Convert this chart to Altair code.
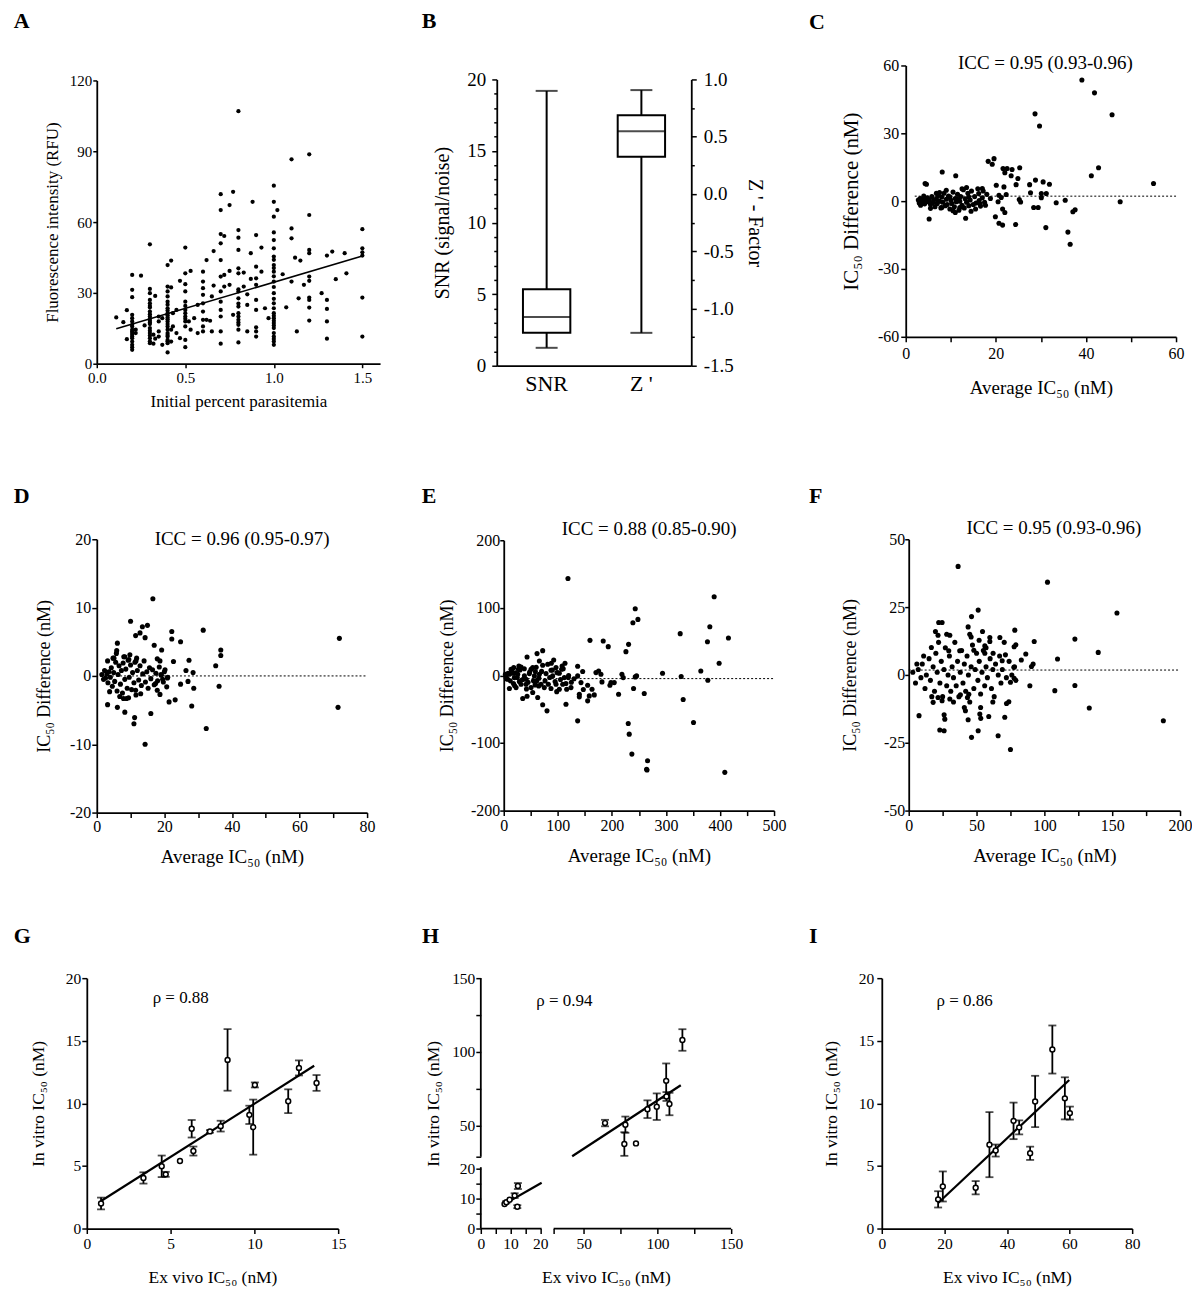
import altair as alt
import pandas as pd

FONT = "Liberation Serif"
BLACK = "#000000"

# ---------------- Panel A : fluorescence vs parasitemia ----------------
A_col_x = [0.11, 0.15, 0.17, 0.20, 0.22, 0.25, 0.27, 0.30, 0.32, 0.33, 0.35, 0.37, 0.40, 0.42, 0.43,
           0.45, 0.47, 0.50, 0.52, 0.53, 0.55, 0.57, 0.60, 0.62, 0.64, 0.65, 0.66, 0.70, 0.72, 0.75,
           0.77, 0.80, 0.83, 0.85, 0.87, 0.88, 0.90, 0.93, 0.95, 0.97, 1.00, 1.02, 1.05, 1.07, 1.10,
           1.12, 1.13, 1.14, 1.15, 1.17, 1.20, 1.27, 1.30, 1.33, 1.35, 1.40, 1.41, 1.50]
A_col_y = [
    [19.6], [17.6], [22.7, 10.4],
    [37.6, 31.3, 28.2, 20.7, 19.3, 17.9, 16.5, 15.8, 14.4, 13.7, 13.0, 12.3, 11.5, 10.8, 9.4, 8.0, 7.0, 5.9],
    [14.4, 13.0], [37.3], [16.2],
    [50.6, 31.7, 29.9, 27.0, 25.6, 24.5, 23.8, 22.1, 21.0, 20.0, 19.0, 18.2, 17.5, 16.8, 15.1, 14.0, 13.0, 12.0, 10.8, 9.5, 8.7],
    [12.3, 8.5], [28.7, 10.6], [20.0, 17.9, 13.7, 11.5], [19.3, 8.0],
    [41.8, 32.7, 30.6, 28.5, 26.3, 25.0, 23.5, 22.5, 21.4, 20.5, 19.6, 18.8, 17.9, 16.8, 15.8, 14.4, 13.0, 12.2, 11.5, 10.1, 9.5, 8.7, 4.8],
    [43.7, 32.3, 14.4, 9.4], [21.4, 15.8], [22.8, 13.0], [35.1, 10.8],
    [49.2, 38.3, 33.7, 30.6, 26.3, 24.5, 22.8, 21.4, 20.0, 19.0, 17.9, 15.8, 10.1, 7.0],
    [17.9], [39.3, 14.4], [19.3], [24.9, 13.0],
    [39.0, 34.8, 32.0, 29.2, 25.6, 22.1, 18.6, 15.8, 13.7],
    [43.9, 18.6], [18.2], [28.5, 13.7], [47.7, 33.1],
    [71.8, 65.1, 54.9, 51.0, 43.9, 36.9, 30.6, 26.3, 22.8, 20.0, 13.7, 8.5],
    [54.1, 37.6, 32.7], [67.2, 39.3, 33.4], [72.8, 20.7],
    [107.0, 56.6, 53.4, 48.2, 40.4, 38.3, 31.5, 30.6, 27.7, 25.5, 24.2, 21.4, 20.0, 18.6, 17.5, 16.5, 14.4, 9.0],
    [38.6, 32.7], [29.4, 24.9, 13.7], [46.8, 35.9], [68.6],
    [54.5, 41.1, 36.2, 33.4, 27.0, 22.8, 15.4, 13.7, 11.5],
    [49.2, 39.0], [23.5], [19.3],
    [75.4, 68.6, 62.3, 55.6, 52.4, 48.9, 45.4, 44.0, 41.8, 40.5, 39.0, 37.0, 34.8, 32.5, 29.9, 27.5, 25.6,
     23.5, 21.4, 20.3, 19.3, 18.2, 17.2, 16.2, 15.1, 13.0, 11.5, 10.5, 9.4, 8.0],
    [65.1], [37.9], [23.9], [86.6, 57.3, 53.1, 34.8], [44.9], [13.7], [27.7], [43.7], [33.4],
    [88.7, 63.0, 48.2, 46.8, 36.9, 35.1, 28.0, 27.0, 23.8, 18.3],
    [29.9], [45.8, 27.0, 23.2, 17.9, 10.6], [47.5], [35.8], [46.8], [38.3],
    [57.0, 48.9, 47.2, 45.8, 28.0, 11.5],
]
A_fit_x = [0.11, 1.50]
A_fit_y = [14.8, 45.6]

# ---------------- Panel B : box plots ----------------
B_cats = ["SNR", "Z '"]
B_stats = ["lo", "q1", "med", "q3", "hi"]
B_snr = [1.25, 2.30, 3.40, 5.35, 19.2]
B_z = [-1.213, 0.324, 0.548, 0.687, 0.907]

# ---------------- Panel C ----------------
C_pts = [
    (39.1, 53.6), (41.9, 47.9), (45.8, 38.2), (28.7, 38.6), (29.7, 33.2), (42.8, 14.8), (41.2, 11.2),
    (55.0, 7.8), (47.6, -0.3), (35.4, 0.4), (33.4, -0.7), (36.0, -13.7), (36.5, -19.1), (37.1, -4.7),
    (37.6, -3.8), (31.1, -11.7), (31.9, 7.5), (30.5, 8.5), (30.1, 3.4), (31.2, 3.4), (28.8, 9.3),
    (27.5, 7.3), (27.7, 3.7), (28.4, -2.8), (29.4, -2.8), (30.1, 1.5), (25.3, 14.8), (24.9, 10.0),
    (25.2, 0.7), (25.5, -0.4), (24.4, -10.3), (24.5, 7.3), (23.6, 14.0), (22.5, 14.4), (21.6, 14.4),
    (22.0, 12.6), (23.4, 11.2), (20.7, -9.8), (21.5, -10.6), (19.9, -6.9), (18.3, 17.6), (19.6, 18.8),
    (19.2, 16.3), (20.1, 7.0), (20.7, 2.6), (21.2, 1.6), (21.8, 6.3), (21.5, -3.5), (22.0, -5.0),
    (22.3, 2.9), (20.5, -0.3), (18.8, 1.2), (17.7, -1.8), (17.0, 5.6), (16.2, 3.4), (8.1, 12.9),
    (11.1, 11.2), (4.3, 7.8), (5.2, -7.9), (13.3, -7.6), (4.6, 7.5),
    (2.8, 0.5), (3.0, -0.8), (3.2, 1.2), (3.5, 0.0), (3.8, -0.5), (4.0, 0.8), (4.2, -1.2), (4.5, 0.3),
    (4.8, 1.5), (5.0, -0.3), (5.2, 0.6), (5.5, -1.5), (5.8, 2.0), (6.0, -0.8), (6.2, 0.4), (6.5, -2.5),
    (6.8, 1.0), (7.0, -1.0), (7.2, 2.5), (7.5, 0.0), (7.8, -3.0), (8.0, 1.8), (8.2, -0.5), (8.5, 3.5),
    (8.8, -2.0), (9.0, 0.8), (9.2, -1.5), (9.5, 2.2), (9.8, -3.5), (10.0, 0.5), (10.2, -1.0), (10.5, 4.0),
    (10.8, -2.5), (11.0, 1.2), (11.2, -0.3), (11.5, 3.0), (11.8, -4.0), (12.0, 0.0), (12.2, 2.0),
    (12.5, -1.8), (12.8, 5.0), (13.0, -3.0), (13.2, 1.0), (13.5, -0.5), (13.8, 3.5), (14.0, -2.0),
    (14.3, 0.5), (14.6, 4.5), (15.0, -1.5), (15.3, 2.0), (15.6, -0.8), (16.0, 5.5), (16.3, 0.3),
    (16.6, -2.2), (17.0, 1.5), (17.5, -0.5), (18.0, 3.0), (5.5, -3.2), (9.0, 4.8), (10.5, -4.2),
    (12.5, 5.5), (14.5, -4.5), (8.0, -2.8), (6.8, 3.5), (11.0, -5.0), (13.5, 6.0), (7.5, 3.8),
    (4.0, 2.2), (3.3, -1.8), (15.5, -3.5), (17.2, 4.5), (16.5, -1.2), (12.0, -2.8), (9.8, 1.8),
    (11.5, 0.8), (14.0, 1.8),
]
C_mean = 2.2

# ---------------- Panel D ----------------
D_pts = [
    (16.6, 11.3), (10.0, 8.0), (13.5, 7.2), (15.0, 7.4), (12.8, 6.3), (11.5, 5.9), (14.3, 5.6),
    (22.2, 6.5), (24.8, 5.0), (22.2, 5.4), (31.5, 6.7), (71.8, 5.5), (71.4, -4.6), (36.7, 3.8),
    (36.7, 3.0), (35.2, 1.5), (36.2, -1.5), (32.4, -7.7), (28.1, -4.4), (28.7, -1.8), (28.5, 0.5),
    (26.4, 0.8), (27.3, 2.3), (27.0, -0.8), (24.8, -1.2), (22.7, 2.1), (23.2, -3.5), (21.4, -3.8),
    (19.2, 3.8), (17.0, 4.5), (14.3, -10.0), (16.0, -5.5), (11.0, -7.0), (11.2, -6.1), (8.3, -5.3),
    (7.9, -3.3), (6.1, -4.6), (3.2, -4.2), (3.2, 2.2), (6.1, 4.8), (5.9, 3.7), (5.1, 2.6), (8.3, 2.8),
    (9.5, 2.4), (11.6, 2.2), (17.9, 2.5), (18.7, 2.2), (17.4, -1.1), (17.9, -2.1), (18.7, -2.7),
    (11.5, -2.1), (9.4, -3.2), (20.2, 0.9), (20.9, -0.3), (19.7, -0.9), (19.1, 0.1), (20.7, -1.6),
    (1.5, 0.2), (2.0, -0.5), (2.3, 0.8), (2.6, -0.3), (3.0, 0.3), (3.3, -1.0), (3.6, 0.6), (4.0, -0.2),
    (4.3, 1.2), (4.6, -1.5), (5.0, 0.5), (5.3, -0.8), (5.6, 2.0), (6.0, -2.2), (6.3, 0.2), (6.6, 1.5),
    (7.0, -1.2), (7.3, 0.8), (7.6, -2.5), (8.0, 2.8), (8.3, -0.5), (8.6, 1.0), (9.0, -1.8), (9.3, 2.3),
    (9.6, -0.2), (10.0, 1.6), (10.3, -2.0), (10.6, 0.5), (11.0, -1.0), (11.3, 2.0), (11.6, -2.8),
    (12.0, 0.8), (12.4, -0.6), (12.8, 1.5), (13.2, -1.4), (13.6, 0.3), (14.0, 2.2), (14.4, -0.9),
    (14.8, 0.6), (15.2, -1.8), (15.6, 1.2), (16.0, -0.4), (16.5, 0.9), (17.0, -1.3), (17.5, 0.4),
    (18.0, -0.7), (18.5, 1.3), (19.0, 0.2), (19.5, -0.5), (20.0, 0.6), (21.0, -0.2), (4.8, 2.6),
    (6.8, -3.0), (9.8, 3.1), (11.8, 2.6), (8.8, -3.3), (13.0, -2.6), (5.8, 3.3), (7.8, 1.9), (3.8, -2.3),
]
D_mean = 0.0

# ---------------- Panel E ----------------
E_pts = [
    (118.8, 143.4), (243.2, 98.6), (248.2, 82.9), (238.9, 78.0), (230.9, 46.0), (226.0, 35.2),
    (218.6, 1.7), (221.0, -3.2), (245.7, -0.7), (243.2, -2.2), (240.1, -19.4), (259.9, -26.8),
    (230.3, -71.1), (232.1, -86.9), (237.0, -116.4), (266.0, -126.2), (264.2, -139.0), (265.0, -140.0),
    (159.5, 51.9), (184.0, 51.0), (193.3, 42.6), (175.5, 6.6), (170.6, 4.2), (179.8, 1.7), (181.7, -9.6),
    (198.3, -10.6), (204.4, -10.6), (196.4, -14.5), (212.4, -27.8), (293.7, 3.2), (326.4, 61.8),
    (328.2, -1.7), (331.9, -35.7), (351.0, -69.7), (364.5, 6.6), (376.8, 49.8), (377.5, -7.1),
    (381.2, 72.1), (389.2, 116.4), (398.4, 18.0), (415.6, 55.4), (408.9, -143.4),
    (136.7, 13.5), (146.0, 5.7), (136.7, -0.7), (142.9, -10.6), (139.8, -27.8), (136.7, -67.2),
    (139.8, -31.7), (155.2, -14.5), (155.2, -37.6), (163.3, -20.4), (158.2, -30.3), (167.5, -28.8),
    (147.2, -20.9), (115.1, -42.6), (119.5, -3.2), (124.4, -18.0), (116.4, -20.4), (113.3, 18.0),
    (107.1, 9.1), (98.5, 4.2), (92.4, 22.9), (81.3, 16.5), (72.0, 36.7), (61.6, 32.3), (43.1, 27.3),
    (65.9, 21.4), (72.0, -43.5), (80.0, -52.4), (62.8, -32.7), (35.1, -34.2), (43.1, -30.8),
    (53.6, -25.3), (61.0, -8.1), (10.5, -19.4), (18.5, 11.6), (32.0, 12.5), (50.5, 9.1), (82.5, -13.0),
    (90.5, -0.7), (96.7, -13.0), (102.8, -20.4), (87.4, -19.4), (69.0, -13.0), (50.5, -18.0),
    (41.3, -13.0), (28.9, -9.1), (19.7, -3.2), (10.5, 1.7), (4.3, -2.2), (16.6, 3.2), (25.9, 1.7),
    (38.2, -0.7), (47.4, 2.7), (56.7, -0.7), (65.9, 1.7), (78.2, 2.7), (87.4, 7.6), (102.8, 3.2),
    (112.1, -3.2), (64.7, -15.5), (76.4, -8.1), (109.0, -13.0), (96.7, 11.6), (27.1, 9.1), (13.5, 9.1),
    (7.4, -5.6), (3.1, 1.7), (22.8, -18.0), (53.6, 11.6), (58.5, 5.7), (41.3, -5.6), (32.0, -13.0),
    (5, -5), (8, 3), (12, -8), (15, 6), (18, -12), (22, 4), (25, -3), (30, 8), (35, -6), (38, 10),
    (45, -10), (48, 5), (55, -8), (60, 12), (65, -4), (70, 6), (75, -18), (85, -3), (90, 8), (95, -9),
    (100, 4), (105, -6), (110, 10), (115, -12), (120, 0), (125, -10), (130, -5), (20, -15), (28, 14),
    (42, -20), (58, -14), (72, 15), (88, 18), (98, -24), (108, 14),
]
E_mean = -4.7

# ---------------- Panel F ----------------
F_pts = [
    (36.4, 40.0), (102.3, 34.2), (153.5, 22.8), (139.7, 8.3), (122.5, 13.2), (109.7, 5.9), (122.5, -3.9),
    (107.7, -5.8), (133.1, -12.2), (187.7, -16.9), (92.5, 12.3), (91.7, 4.0), (90.5, 3.1), (89.3, -4.0),
    (86.3, 7.7), (83.0, 5.5), (78.2, 16.5), (79.0, 11.1), (77.7, 10.4), (77.5, 2.8), (77.7, -1.2),
    (75.0, -2.7), (73.8, -9.9), (72.1, -10.5), (70.8, -15.6), (75.0, -27.5), (65.9, -22.4), (70.4, 12.0),
    (67.2, 13.8), (71.3, 7.4), (68.9, 5.2), (51.2, 23.9), (46.3, 21.5), (43.8, 17.7), (45.0, 15.0),
    (54.4, 16.0), (51.9, 12.8), (59.8, 13.8), (59.8, 12.3), (56.1, 10.7), (51.2, -20.6), (52.4, -14.4),
    (53.1, -16.0), (46.3, -23.0), (43.8, -16.5), (41.8, -13.2), (59.0, -15.3), (43.3, -8.3), (44.3, -7.1),
    (38.1, -7.3), (30.3, -8.9), (26.1, -20.6), (22.9, -20.3), (26.6, -16.3), (26.1, -14.7), (18.0, -10.1),
    (7.6, -15.0), (24.6, -9.5), (21.6, -8.3), (24.6, 19.3), (22.1, 19.3), (19.7, 16.0), (30.3, 14.6),
    (16.7, 10.1), (21.6, 14.6), (29.5, 8.9), (37.6, 8.9), (48.0, 9.1), (56.1, 8.0), (62.2, 8.0),
    (3, 1), (5, -3), (7, 2), (9, -1), (10, 4), (12, -5), (13, 0), (15, 6), (16, -2), (18, 3), (19, -6),
    (20, 8), (21, 1), (23, -3), (24, 5), (25, -8), (26, 2), (27, 10), (28, -4), (29, 0), (30, 7), (31, -6),
    (32, 3), (33, -1), (34, 12), (35, -4), (36, 5), (37, -8), (38, 1), (39, 9), (40, -3), (41, 4),
    (42, -6), (43, 7), (44, 0), (45, -10), (46, 3), (47, 11), (48, -5), (49, 2), (50, 8), (51, -2),
    (52, 5), (53, -7), (54, 1), (55, 9), (56, -4), (57, 3), (58, -1), (60, 6), (61, -5), (62, 2),
    (63, -8), (64, 4), (66, 0), (67, 7), (68, -3), (69, 2), (72, -1), (74, 5), (76, 0), (78, 3), (79, -2),
    (22, 12), (28, 15), (33, -10), (41, -12), (46, 14), (53, -12), (57, 10), (62, -10), (17, -8), (11, 7), (6, 4),
]
F_mean = 1.8

# ---------------- Panels G, H, I : in vitro vs ex vivo ----------------
G_x = [0.85, 3.38, 4.47, 4.71, 5.56, 6.26, 6.36, 7.35, 7.99, 8.40, 9.70, 9.93, 10.03, 12.02, 12.66, 13.71]
G_y = [2.00, 4.04, 4.97, 4.33, 5.39, 7.97, 6.19, 7.76, 8.18, 13.47, 9.08, 8.10, 11.47, 10.17, 12.83, 11.63]
G_err = [0.47, 0.45, 0.86, 0.20, 0.0, 0.70, 0.36, 0.10, 0.43, 2.46, 0.73, 2.20, 0.20, 0.95, 0.60, 0.63]
G_fit_x = [0.85, 13.57]
G_fit_y = [2.2, 13.0]

H_x = [8.0, 8.6, 9.7, 11.4, 12.5, 12.3, 64.4, 78.2, 77.5, 85.4, 93.2, 99.5, 105.9, 106.1, 108.1, 116.9]
H_y = [8.2, 8.8, 9.6, 11.0, 14.2, 7.3, 51.8, 50.7, 37.6, 38.0, 61.2, 62.9, 80.4, 69.8, 64.7, 108.1]
H_err = [0.0, 0.4, 0.0, 0.8, 1.0, 0.5, 2.2, 5.5, 8.0, 0.0, 6.0, 9.0, 11.8, 3.0, 7.6, 7.3]
H_fit_seg = ["low", "low", "high", "high"]
H_fit_x = [7.5, 20.5, 42.1, 115.8]
H_fit_y = [7.9, 15.3, 29.3, 77.4]

I_x = [18.0, 19.5, 30.0, 34.4, 36.4, 42.1, 43.9, 47.4, 49.0, 54.5, 58.5, 60.1]
I_y = [2.33, 3.36, 3.26, 6.70, 6.23, 8.60, 8.08, 6.01, 10.15, 14.30, 10.40, 9.22]
I_err = [0.65, 1.20, 0.53, 2.60, 0.48, 1.46, 0.56, 0.53, 2.05, 1.92, 1.68, 0.52]
I_fit_x = [18.0, 59.9]
I_fit_y = [2.04, 11.87]


# ======================= helpers =======================
def lab_expr(major):
    arr = "[" + ",".join(repr(float(v)) for v in major) + "]"
    return f"indexof({arr}, datum.value) >= 0 ? replace(datum.label, '\u2212', '-') : ''"


def axis(title, values, major=None, lfs=15, tfs=17, tick=5, lpad=2, tpad=8, fmt=None,
         orient=None, minor=None, domain=True):
    if major is None:
        major = values
    kw = dict(title=title, values=values, labelExpr=lab_expr(major), labelFontSize=lfs,
              titleFontSize=tfs, tickSize=tick, labelPadding=lpad, titlePadding=tpad, grid=False,
              labelFont=FONT, titleFont=FONT, labelColor=BLACK, titleColor=BLACK,
              titleFontWeight="normal", domainColor=BLACK, tickColor=BLACK, domainWidth=1.8,
              tickWidth=1.5, labelOverlap=False, labelFlush=False, domain=domain)
    if fmt:
        kw["format"] = fmt
    if orient:
        kw["orient"] = orient
    if minor is not None:
        arr = "[" + ",".join(repr(float(v)) for v in major) + "]"
        kw["tickSize"] = {"condition": {"test": f"indexof({arr}, datum.value) >= 0", "value": tick},
                          "value": minor}
    return alt.Axis(**kw)


def letter(t, dx, off):
    return alt.TitleParams(text=t, anchor="start", frame="group", align="left", baseline="alphabetic",
                           orient="top", dx=dx, offset=off, font=FONT, fontSize=22,
                           fontWeight="bold", color=BLACK)


def spacer(w, h):
    return alt.Chart(pd.DataFrame({"s": [0]})).mark_point(opacity=0).properties(width=w, height=h)


# ======================= Panel A =======================
dfA = pd.DataFrame([(x, y) for x, ys in zip(A_col_x, A_col_y) for y in ys], columns=["x", "y"])
dfAfit = pd.DataFrame({"x": A_fit_x, "y": A_fit_y})
xA = alt.X("x:Q", scale=alt.Scale(domain=[0, 1.6], nice=False, zero=False),
           axis=axis("Initial percent parasitemia", [0, 0.5, 1.0, 1.5], lfs=15, tfs=17, tick=4,
                     lpad=3, tpad=8, fmt=".1f"))
yA = alt.Y("y:Q", scale=alt.Scale(domain=[0, 120], range=[299, 15], nice=False, zero=False),
           axis=axis("Fluorescence intensity (RFU)", [0, 30, 60, 90, 120], lfs=15, tfs=17, tick=4,
                     lpad=1, tpad=8))
A = alt.layer(
    alt.Chart(dfA).mark_circle(size=18, color=BLACK, opacity=1).encode(x=xA, y=yA),
    alt.Chart(dfAfit).mark_line(color=BLACK, strokeWidth=1.6).encode(x=xA, y=yA),
).properties(width=284, height=299, title=letter("A", -83.3, 15.5))

# ======================= Panel B =======================
dfBs = pd.DataFrame([dict(cat=B_cats[0], **dict(zip(B_stats, B_snr)))])
dfBz = pd.DataFrame([dict(cat=B_cats[1], **dict(zip(B_stats, B_z)))])
xB = alt.X("cat:N", scale=alt.Scale(type="band", domain=B_cats, paddingInner=0.5, paddingOuter=0.2765),
           axis=alt.Axis(title=None, labelAngle=0, labelFontSize=22, labelFont=FONT, labelColor=BLACK,
                         ticks=False, labelPadding=8, domainColor=BLACK, domainWidth=1.8, grid=False))
scL = alt.Scale(domain=[0, 20], range=[301, 14], nice=False, zero=False)
axL = axis("SNR  (signal/noise)", list(range(0, 21)), [0, 5, 10, 15, 20], lfs=19, tfs=20, tick=5,
           lpad=6, tpad=14, minor=3)
scR = alt.Scale(domain=[-1.5, 1.0], range=[301, 14], nice=False, zero=False)
axR = axis("Z ' - Factor", [-1.5, -1.25, -1.0, -0.75, -0.5, -0.25, 0.0, 0.25, 0.5, 0.75, 1.0],
           [-1.5, -1.0, -0.5, 0.0, 0.5, 1.0], lfs=19, tfs=20, tick=5, lpad=7, tpad=11, fmt=".1f",
           orient="right", minor=3)


def box_layers(df, sc, ax):
    def ye(f):
        return alt.Y(f"{f}:Q", scale=sc, axis=ax)
    base = alt.Chart(df)
    return alt.layer(
        base.mark_rule(color=BLACK, strokeWidth=2).encode(x=xB, y=ye("lo"), y2="hi:Q"),
        base.mark_bar(fill="white", stroke=BLACK, strokeWidth=2).encode(x=xB, y=ye("q1"), y2="q3:Q"),
        base.mark_tick(color=BLACK, thickness=2, size=47).encode(x=xB, y=ye("med")),
        base.mark_tick(color=BLACK, thickness=2, size=22).encode(x=xB, y=ye("lo")),
        base.mark_tick(color=BLACK, thickness=2, size=22).encode(x=xB, y=ye("hi")),
    )


B = alt.layer(box_layers(dfBs, scL, axL), box_layers(dfBz, scR, axR)).resolve_scale(
    y="independent").properties(width=195, height=301, title=letter("B", -75.3, 15.5))


# ======================= Panels C-F =======================
def diff_panel(pts, mean_y, mean_x, xdom, xvals, xmaj, ydom, yvals, ymaj, yrange, w, h, icc, icc_pos,
               let, dx, off, ylpad=1, ytick=5, ytpad=16, xlpad=2, xtpad=13, ytfs=18, xtfs=19):
    df = pd.DataFrame(pts, columns=["x", "y"])
    xe = alt.X("x:Q", scale=alt.Scale(domain=xdom, nice=False, zero=False),
               axis=axis("Average IC\u2085\u2080 (nM)", xvals, xmaj, lfs=16, tfs=xtfs, tick=5,
                         lpad=xlpad, tpad=xtpad))
    ye = alt.Y("y:Q", scale=alt.Scale(domain=ydom, range=yrange, nice=False, zero=False),
               axis=axis("IC\u2085\u2080 Difference (nM)", yvals, ymaj, lfs=16, tfs=ytfs, tick=ytick,
                         lpad=ylpad, tpad=ytpad))
    mean_df = pd.DataFrame({"x": [mean_x[0]], "x2": [mean_x[1]], "y": [mean_y]})
    txt_df = pd.DataFrame({"x": [icc_pos[0]], "y": [icc_pos[1]], "t": [icc]})
    return alt.layer(
        alt.Chart(mean_df).mark_rule(color=BLACK, strokeWidth=1, strokeDash=[2, 2]).encode(
            x=xe, x2="x2:Q", y=ye),
        alt.Chart(df).mark_circle(size=26, color=BLACK, opacity=1).encode(x=xe, y=ye),
        alt.Chart(txt_df).mark_text(font=FONT, fontSize=19, color=BLACK, align="center",
                                    baseline="middle").encode(x=xe, y=ye, text="t:N"),
    ).properties(width=w, height=h, title=letter(let, dx, off))


C = diff_panel(C_pts, C_mean, [2, 60], [0, 60], list(range(0, 61, 10)), [0, 20, 40, 60],
               [-60, 60], [-60, -30, 0, 30, 60], None, [272, 0], 271, 272,
               "ICC = 0.95 (0.93-0.96)", (31, 61.3), "C", -97, 3,
               ylpad=2, ytpad=16, xlpad=4, xtpad=17, ytfs=21, xtfs=19)
D = diff_panel(D_pts, D_mean, [1, 80], [0, 80], list(range(0, 81, 10)), [0, 20, 40, 60, 80],
               [-20, 20], [-20, -10, 0, 10, 20], None, [274, 0], 271, 274,
               "ICC = 0.96 (0.95-0.97)", (43, 20.1), "D", -83.3, 4.8,
               ylpad=1, ytpad=16, xlpad=1, xtpad=13)
E = diff_panel(E_pts, E_mean, [0, 500], [0, 500], list(range(0, 501, 50)), [0, 100, 200, 300, 400, 500],
               [-200, 200], [-200, -100, 0, 100, 200], None, [272, 1], 271, 272,
               "ICC = 0.88 (0.85-0.90)", (269, 216), "E", -82.3, -4.3,
               ylpad=0, ytick=4, ytpad=14, xlpad=2, xtpad=13)
F = diff_panel(F_pts, F_mean, [0, 200], [0, 200], list(range(0, 201, 25)), [0, 50, 100, 150, 200],
               [-50, 50], [-50, -25, 0, 25, 50], None, [272, 0], 272, 272,
               "ICC = 0.95 (0.93-0.96)", (107, 54), "F", -100, -5.4,
               ylpad=0, ytick=4, ytpad=24, xlpad=2, xtpad=13)


# ======================= Panels G, I =======================
def corr_panel(xs, ys, errs, fx, fy, xdom, xvals, ydom, yvals, w, h, rho, rho_pos, let, dx, off,
               ylpad=1, ytpad=18):
    df = pd.DataFrame({"x": xs, "y": ys, "e": errs})
    df["lo"] = df["y"] - df["e"]
    df["hi"] = df["y"] + df["e"]
    dfe = df[df["e"] > 0]
    xe = alt.X("x:Q", scale=alt.Scale(domain=xdom, nice=False, zero=False),
               axis=axis("Ex vivo IC\u2085\u2080  (nM)", xvals, lfs=15.5, tfs=17.5, tick=5, lpad=3, tpad=17))
    ysc = alt.Scale(domain=ydom, nice=False, zero=False)
    yax = axis("In vitro IC\u2085\u2080 (nM)", yvals, lfs=15.5, tfs=17.5, tick=5, lpad=ylpad, tpad=ytpad)

    def ye(f):
        return alt.Y(f"{f}:Q", scale=ysc, axis=yax)
    fit = pd.DataFrame({"x": fx, "y": fy})
    txt = pd.DataFrame({"x": [rho_pos[0]], "y": [rho_pos[1]], "t": [rho]})
    return alt.layer(
        alt.Chart(dfe).mark_rule(color=BLACK, strokeWidth=1.8).encode(x=xe, y=ye("lo"), y2="hi:Q"),
        alt.Chart(dfe).mark_tick(color=BLACK, orient="horizontal", size=8, thickness=1.8).encode(x=xe, y=ye("lo")),
        alt.Chart(dfe).mark_tick(color=BLACK, orient="horizontal", size=8, thickness=1.8).encode(x=xe, y=ye("hi")),
        alt.Chart(fit).mark_line(color=BLACK, strokeWidth=2.2).encode(x=xe, y=ye("y")),
        alt.Chart(df).mark_point(shape="circle", filled=True, fill="white", stroke=BLACK, strokeWidth=1.5,
                                 size=24, opacity=1).encode(x=xe, y=ye("y")),
        alt.Chart(txt).mark_text(font=FONT, fontSize=17, color=BLACK, align="left", baseline="middle").encode(
            x=xe, y=ye("y"), text="t:N"),
    ).properties(width=w, height=h, title=letter(let, dx, off))


G = corr_panel(G_x, G_y, G_err, G_fit_x, G_fit_y, [0, 15], [0, 5, 10, 15], [0, 20], [0, 5, 10, 15, 20],
               252, 251, "\u03c1 = 0.88", (3.93, 18.4), "G", -73.3, 6.5, ylpad=1, ytpad=18)
I = corr_panel(I_x, I_y, I_err, I_fit_x, I_fit_y, [0, 80], [0, 20, 40, 60, 80], [0, 20], [0, 5, 10, 15, 20],
               251, 251, "\u03c1 = 0.86", (17.5, 18.2), "I", -73, 6, ylpad=3, ytpad=18)

# ======================= Panel H (broken axes) =======================
dfH = pd.DataFrame({"x": H_x, "y": H_y, "e": H_err})
dfH["lo"] = dfH["y"] - dfH["e"]
dfH["hi"] = dfH["y"] + dfH["e"]
dfHe = dfH[dfH["e"] > 0]
H_xticks = [0, 5, 10, 15, 20, 29.5, 50, 75, 100, 125, 150]
H_yticks = [0, 5, 10, 15, 20, 29, 50, 75, 100, 125, 150]
H_major = [0, 10, 20, 50, 100, 150]
xH = alt.X("x:Q", scale=alt.Scale(domain=[0, 20.5, 29.5, 150], range=[0, 61, 73, 251], nice=False, zero=False),
           axis=axis("Ex vivo IC\u2085\u2080  (nM)", H_xticks, H_major, lfs=15.5, tfs=17.5, tick=5, lpad=3,
                     tpad=17, domain=False))
yHs = alt.Scale(domain=[0, 20.5, 29, 150], range=[251, 189.5, 179, 0], nice=False, zero=False)
yHax = axis("In vitro IC\u2085\u2080 (nM)", H_yticks, H_major, lfs=15.5, tfs=17.5, tick=5, lpad=1, tpad=9,
            domain=False)


def yH(f):
    return alt.Y(f"{f}:Q", scale=yHs, axis=yHax)


H_xline = pd.DataFrame({"x": [0, 29.5], "x2": [20.5, 150], "y": [0, 0]})
H_yline = pd.DataFrame({"x": [0, 0], "y": [0, 29], "y2": [20.5, 150]})
H_fit = pd.DataFrame({"seg": H_fit_seg, "x": H_fit_x, "y": H_fit_y})
H_txt = pd.DataFrame({"x": [18.7], "y": [134.5], "t": ["\u03c1 = 0.94"]})
H = alt.layer(
    alt.Chart(H_xline).mark_rule(color=BLACK, strokeWidth=1.8).encode(x=xH, x2="x2:Q", y=yH("y")),
    alt.Chart(H_yline).mark_rule(color=BLACK, strokeWidth=1.8).encode(x=xH, y=yH("y"), y2="y2:Q"),
    alt.Chart(dfHe).mark_rule(color=BLACK, strokeWidth=1.8).encode(x=xH, y=yH("lo"), y2="hi:Q"),
    alt.Chart(dfHe).mark_tick(color=BLACK, orient="horizontal", size=8, thickness=1.8).encode(x=xH, y=yH("lo")),
    alt.Chart(dfHe).mark_tick(color=BLACK, orient="horizontal", size=8, thickness=1.8).encode(x=xH, y=yH("hi")),
    alt.Chart(H_fit).mark_line(color=BLACK, strokeWidth=2.2).encode(x=xH, y=yH("y"), detail="seg:N"),
    alt.Chart(dfH).mark_point(shape="circle", filled=True, fill="white", stroke=BLACK, strokeWidth=1.5,
                              size=24, opacity=1).encode(x=xH, y=yH("y")),
    alt.Chart(H_txt).mark_text(font=FONT, fontSize=17, color=BLACK, align="left", baseline="middle").encode(
        x=xH, y=yH("y"), text="t:N"),
).properties(width=251, height=251, title=letter("H", -59, 6))

# ======================= layout =======================
row1 = alt.hconcat(spacer(10, 420), A, spacer(117, 1), B, spacer(215, 1), C, spacing=0, bounds="flush")
row2 = alt.hconcat(spacer(10, 386), D, spacer(137, 1), E, spacer(135, 1), F, spacing=0, bounds="flush")
row3 = alt.hconcat(G, spacer(143, 1), H, spacer(151, 1), I, spacing=0, bounds="flush")

chart = alt.vconcat(row1, row2, row3, spacing=0).properties(
    padding={"left": 5, "top": 0, "right": 0, "bottom": 0}
).configure(font=FONT).configure_view(strokeWidth=0)

chart.save("out.html", embed_options={"renderer": "svg", "actions": False})
